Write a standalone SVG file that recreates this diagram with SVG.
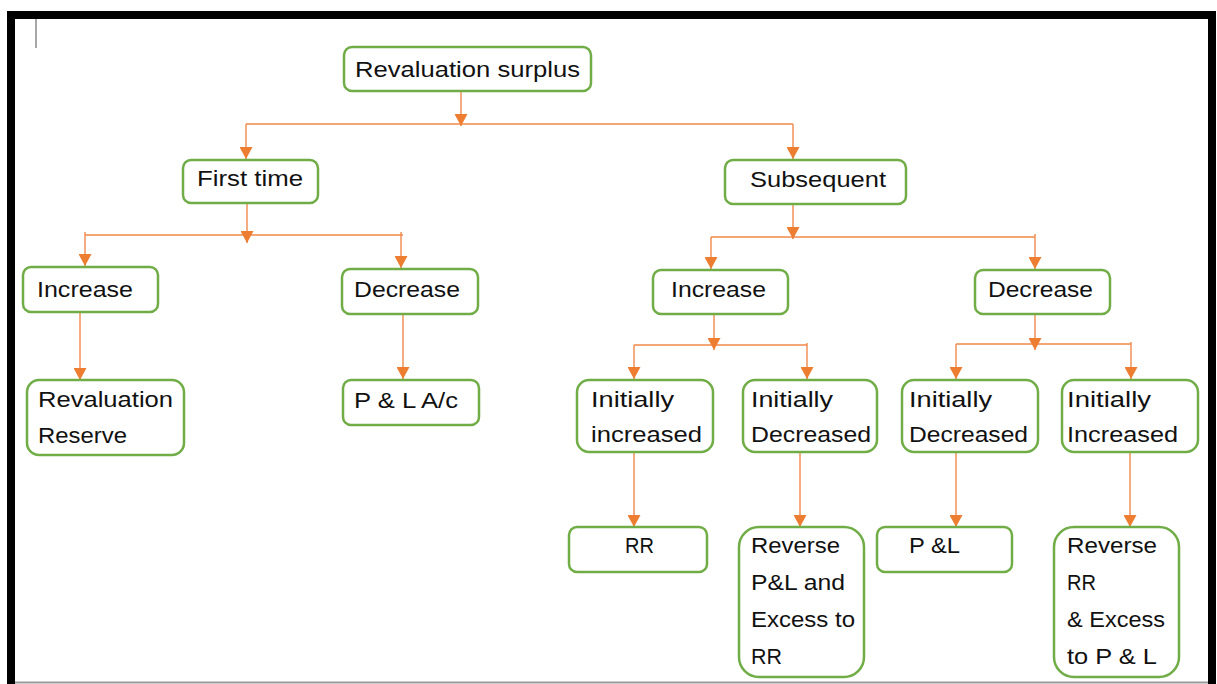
<svg xmlns="http://www.w3.org/2000/svg" width="1217" height="684" viewBox="0 0 1217 684">
  <style>
    .box { fill: #ffffff; stroke: #70AD47; stroke-width: 2.5; }
    .lbl { font-family: "Liberation Sans", Arial, sans-serif; font-size: 22px; fill: #111111; }
    .wire { fill: none; stroke: #F0894A; stroke-width: 1.4; }
    .frame { fill: none; stroke: #000000; stroke-width: 8; }
  </style>
  <defs>
    <marker id="arrow" markerUnits="userSpaceOnUse" markerWidth="13" markerHeight="13" refX="12" refY="6.5" orient="auto">
      <path d="M0,0 L12,6.5 L0,13 Z" fill="#ED7D31"/>
    </marker>
  </defs>

  <rect x="0" y="0" width="1217" height="684" fill="#ffffff"/>

  <!-- page frame -->
  <path class="frame" d="M11,690 V15 H1212 V690"/>
  <line x1="15" y1="682.5" x2="1208" y2="682.5" stroke="#9a9a9a" stroke-width="2"/>
  <!-- text cursor -->
  <line x1="36" y1="19" x2="36" y2="48" stroke="#8a8a8a" stroke-width="1.5"/>

  <!-- connectors -->
  <g id="connectors">
    <path class="wire" d="M246,124 H793"/>
    <path class="wire" d="M461,91 V126" marker-end="url(#arrow)"/>
    <path class="wire" d="M246,124 V159" marker-end="url(#arrow)"/>
    <path class="wire" d="M793,124 V159" marker-end="url(#arrow)"/>

    <path class="wire" d="M85,235 H403"/>
    <path class="wire" d="M247,204 V243" marker-end="url(#arrow)"/>
    <path class="wire" d="M85,232 V266" marker-end="url(#arrow)"/>
    <path class="wire" d="M401,232 V268" marker-end="url(#arrow)"/>
    <path class="wire" d="M80,312 V380" marker-end="url(#arrow)"/>
    <path class="wire" d="M403,314 V379" marker-end="url(#arrow)"/>

    <path class="wire" d="M711,237 H1035"/>
    <path class="wire" d="M793,204 V239" marker-end="url(#arrow)"/>
    <path class="wire" d="M711,237 V269" marker-end="url(#arrow)"/>
    <path class="wire" d="M1035,234 V269" marker-end="url(#arrow)"/>

    <path class="wire" d="M634,345 H807"/>
    <path class="wire" d="M714,314 V350" marker-end="url(#arrow)"/>
    <path class="wire" d="M634,345 V379" marker-end="url(#arrow)"/>
    <path class="wire" d="M807,343 V379" marker-end="url(#arrow)"/>

    <path class="wire" d="M956,344 H1131"/>
    <path class="wire" d="M1035,314 V350" marker-end="url(#arrow)"/>
    <path class="wire" d="M956,344 V379" marker-end="url(#arrow)"/>
    <path class="wire" d="M1131,342 V379" marker-end="url(#arrow)"/>

    <path class="wire" d="M634,452 V527" marker-end="url(#arrow)"/>
    <path class="wire" d="M800,452 V527" marker-end="url(#arrow)"/>
    <path class="wire" d="M956,452 V527" marker-end="url(#arrow)"/>
    <path class="wire" d="M1130,452 V527" marker-end="url(#arrow)"/>
  </g>

  <!-- nodes -->
  <g id="revaluation-surplus">
    <rect class="box" x="344" y="47" width="247" height="44" rx="8"/>
    <text class="lbl" x="355" y="77" textLength="225" lengthAdjust="spacingAndGlyphs">Revaluation surplus</text>
  </g>
  <g id="first-time">
    <rect class="box" x="183" y="160" width="135" height="43" rx="8"/>
    <text class="lbl" x="197" y="186" textLength="106" lengthAdjust="spacingAndGlyphs">First time</text>
  </g>
  <g id="subsequent">
    <rect class="box" x="725" y="160" width="181" height="44" rx="8"/>
    <text class="lbl" x="750" y="187" textLength="136" lengthAdjust="spacingAndGlyphs">Subsequent</text>
  </g>
  <g id="first-increase">
    <rect class="box" x="23" y="267" width="135" height="45" rx="8"/>
    <text class="lbl" x="37" y="297" textLength="96" lengthAdjust="spacingAndGlyphs">Increase</text>
  </g>
  <g id="first-decrease">
    <rect class="box" x="342" y="269" width="136" height="45" rx="8"/>
    <text class="lbl" x="354" y="297" textLength="106" lengthAdjust="spacingAndGlyphs">Decrease</text>
  </g>
  <g id="revaluation-reserve">
    <rect class="box" x="27" y="380" width="157" height="75" rx="12"/>
    <text class="lbl" x="38" y="407" textLength="135" lengthAdjust="spacingAndGlyphs">Revaluation</text>
    <text class="lbl" x="38" y="443" textLength="89" lengthAdjust="spacingAndGlyphs">Reserve</text>
  </g>
  <g id="pl-account">
    <rect class="box" x="343" y="380" width="136" height="45" rx="8"/>
    <text class="lbl" x="354" y="408" textLength="104" lengthAdjust="spacingAndGlyphs">P &amp; L A/c</text>
  </g>
  <g id="subsequent-increase">
    <rect class="box" x="653" y="270" width="135" height="44" rx="8"/>
    <text class="lbl" x="671" y="297" textLength="95" lengthAdjust="spacingAndGlyphs">Increase</text>
  </g>
  <g id="subsequent-decrease">
    <rect class="box" x="975" y="270" width="135" height="44" rx="8"/>
    <text class="lbl" x="988" y="297" textLength="105" lengthAdjust="spacingAndGlyphs">Decrease</text>
  </g>
  <g id="inc-initially-increased">
    <rect class="box" x="577" y="380" width="136" height="72" rx="12"/>
    <text class="lbl" x="591" y="407" textLength="83" lengthAdjust="spacingAndGlyphs">Initially</text>
    <text class="lbl" x="591" y="442" textLength="111" lengthAdjust="spacingAndGlyphs">increased</text>
  </g>
  <g id="inc-initially-decreased">
    <rect class="box" x="743" y="380" width="134" height="72" rx="12"/>
    <text class="lbl" x="751" y="407" textLength="82" lengthAdjust="spacingAndGlyphs">Initially</text>
    <text class="lbl" x="751" y="442" textLength="120" lengthAdjust="spacingAndGlyphs">Decreased</text>
  </g>
  <g id="dec-initially-decreased">
    <rect class="box" x="902" y="380" width="136" height="72" rx="12"/>
    <text class="lbl" x="909" y="407" textLength="83" lengthAdjust="spacingAndGlyphs">Initially</text>
    <text class="lbl" x="909" y="442" textLength="119" lengthAdjust="spacingAndGlyphs">Decreased</text>
  </g>
  <g id="dec-initially-increased">
    <rect class="box" x="1062" y="380" width="136" height="72" rx="12"/>
    <text class="lbl" x="1067" y="407" textLength="84" lengthAdjust="spacingAndGlyphs">Initially</text>
    <text class="lbl" x="1067" y="442" textLength="111" lengthAdjust="spacingAndGlyphs">Increased</text>
  </g>
  <g id="rr">
    <rect class="box" x="569" y="527" width="138" height="45" rx="8"/>
    <text class="lbl" x="625" y="553" textLength="29" lengthAdjust="spacingAndGlyphs">RR</text>
  </g>
  <g id="reverse-pl">
    <rect class="box" x="739" y="527" width="125" height="150" rx="20"/>
    <text class="lbl" x="751" y="553" textLength="89" lengthAdjust="spacingAndGlyphs">Reverse</text>
    <text class="lbl" x="751" y="590" textLength="94" lengthAdjust="spacingAndGlyphs">P&amp;L and</text>
    <text class="lbl" x="751" y="627" textLength="104" lengthAdjust="spacingAndGlyphs">Excess to</text>
    <text class="lbl" x="751" y="664" textLength="31" lengthAdjust="spacingAndGlyphs">RR</text>
  </g>
  <g id="pl">
    <rect class="box" x="877" y="527" width="135" height="45" rx="8"/>
    <text class="lbl" x="909" y="553" textLength="51" lengthAdjust="spacingAndGlyphs">P &amp;L</text>
  </g>
  <g id="reverse-rr">
    <rect class="box" x="1054" y="527" width="125" height="150" rx="20"/>
    <text class="lbl" x="1067" y="553" textLength="90" lengthAdjust="spacingAndGlyphs">Reverse</text>
    <text class="lbl" x="1067" y="590" textLength="29" lengthAdjust="spacingAndGlyphs">RR</text>
    <text class="lbl" x="1067" y="627" textLength="98" lengthAdjust="spacingAndGlyphs">&amp; Excess</text>
    <text class="lbl" x="1067" y="664" textLength="90" lengthAdjust="spacingAndGlyphs">to P &amp; L</text>
  </g>
</svg>
